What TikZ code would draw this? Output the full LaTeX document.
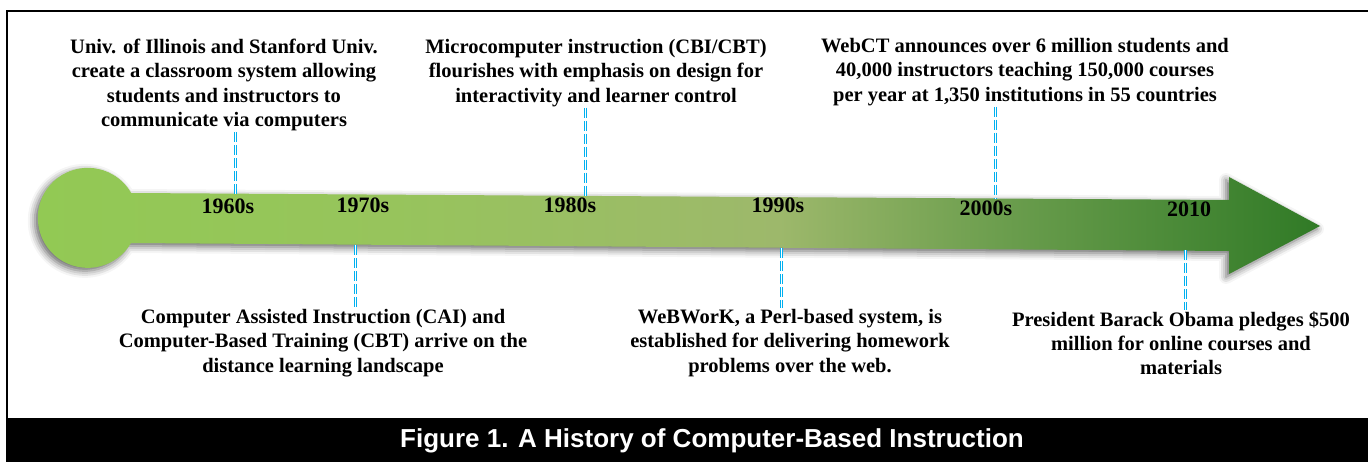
\documentclass[tikz,border=0pt]{standalone}
\usepackage{fontspec}
\setmainfont{Liberation Serif}
\setsansfont{Liberation Sans}
\usetikzlibrary{shadows.blur}
\definecolor{linkblue}{RGB}{0,176,240}
% green shaft: stops from 25bp (left end) to 75bp (tip)
\pgfdeclarehorizontalshading{timeshade}{100bp}{%
  rgb(0bp)=(0.573,0.788,0.329); rgb(25bp)=(0.573,0.788,0.329);
  rgb(39bp)=(0.592,0.769,0.361); rgb(54bp)=(0.616,0.722,0.420);
  rgb(62.5bp)=(0.424,0.620,0.306); rgb(75bp)=(0.188,0.478,0.149);
  rgb(100bp)=(0.188,0.478,0.149)}
\tikzset{
  event/.style = {align=center, inner sep=1pt, font=\bfseries\fontsize{20.5}{24.2}\selectfont},
  year/.style = {inner sep=0pt, font=\bfseries\fontsize{22}{24}\selectfont},
  link/.style = {draw=linkblue, double=white, double distance=1pt, line width=1pt, dash pattern=on 10pt off 3pt}
}
\begin{document}
\begin{tikzpicture}[x = 1pt, y = -1pt]
\useasboundingbox (0,0) rectangle (1368,462);
% frame and caption bar
\fill [black] (6,418) rectangle (1368,462);
\draw [line width = 2.5pt] (7,418) -- (7,11) -- (1368,11);
\node [font = \sffamily\bfseries\fontsize{26}{30}\selectfont, text = white] (cap) at (712,441) {Figure 1. A History of Computer-Based Instruction};
% the time arrow
\path [shading = timeshade,
  blur shadow = {shadow xshift = -3pt, shadow yshift = -3pt, shadow blur radius = 7pt, shadow opacity = 60}]
  (131,193) -- (1229,200) -- (1229,177) -- (1320,226) -- (1229,274) -- (1229,251) -- (131,243)
  arc [start angle = 30.2, end angle = 329.8, radius = 50] -- cycle;
% decades
\node [year] (y60) at (228,206) {1960s};
\node [year] (y70) at (363,205) {1970s};
\node [year] (y80) at (570,205) {1980s};
\node [year] (y90) at (778,205) {1990s};
\node [year] (y00) at (986,208) {2000s};
\node [year] (y10) at (1189,209) {2010};
% events above
\node [event] (t60) at (224,85) {Univ. of Illinois and Stanford Univ.\\ create a classroom system allowing\\ students and instructors to\\ communicate via computers};
\node [event] (t80) at (596,73) {Microcomputer instruction (CBI/CBT)\\ flourishes with emphasis on design for\\ interactivity and learner control};
\node [event] (t00) at (1025,72) {WebCT announces over 6 million students and\\ 40,000 instructors teaching 150,000 courses\\ per year at 1,350 institutions in 55 countries};
% events below
\node [event] (b70) at (323,343) {Computer Assisted Instruction (CAI) and\\ Computer-Based Training (CBT) arrive on the\\ distance learning landscape};
\node [event] (b90) at (790,343) {WeBWorK, a Perl-based system, is\\ established for delivering homework\\ problems over the web.};
\node [event] (b10) at (1181,343) {President Barack Obama pledges \$500\\ million for online courses and\\ materials};
% links to the arrow
\coordinate (c60) at (235,195);
\coordinate (c80) at (585,196);
\coordinate (c00) at (995,199);
\coordinate (c70) at (355,245);
\coordinate (c90) at (781,248);
\coordinate (c10) at (1185,250);
\draw [link] (t60.south -| c60) -- (c60);
\draw [link] (t80.south -| c80) -- (c80);
\draw [link] (t00.south -| c00) -- (c00);
\draw [link] (c70) -- (b70.north -| c70);
\draw [link] (c90) -- (b90.north -| c90);
\draw [link] (c10) -- (b10.north -| c10);
\end{tikzpicture}
\end{document}
